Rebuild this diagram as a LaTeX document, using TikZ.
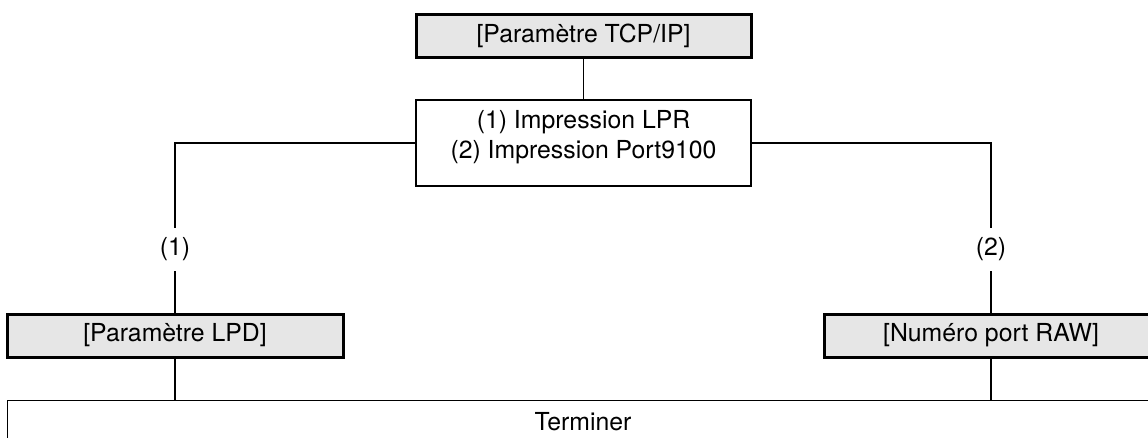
\documentclass[tikz,border=0pt]{standalone}
\usepackage{fontspec}
\setmainfont{TeX Gyre Heros}
\definecolor{boxgray}{HTML}{E6E6E6}
\begin{document}
\begin{tikzpicture}[x=1pt,y=-1pt,
  every node/.style={font=\fontsize{24.8}{30}\selectfont, inner sep=0pt},
  graybox/.style={draw=black, line width=3pt, fill=boxgray, rectangle},
  plainbox/.style={draw=black, line width=1.3pt, fill=white, rectangle},
  conn/.style={draw=black, line width=1.3pt},
  lbl/.style={minimum height=43pt, inner sep=0pt}]
\useasboundingbox (0,0) rectangle (1148,437);
\clip (0,0) rectangle (1148,437);
% nodes
\node[graybox, minimum width=335pt, minimum height=43pt] (tcp) at (583.5,35.5) {[Paramètre TCP/IP]};
\node[plainbox, minimum width=335pt, minimum height=86pt] (mid) at (583.5,143) {};
\node[align=center] (midtext) at (583.5,137) {(1) Impression LPR\\(2) Impression Port9100};
\node[lbl] (l1) at (175,249.5) {(1)};
\node[lbl] (l2) at (991,249.5) {(2)};
\node[graybox, minimum width=336pt, minimum height=43pt] (lpd) at (175,335.5) {[Paramètre LPD]};
\node[graybox, minimum width=334pt, minimum height=43pt] (raw) at (991,335.5) {[Numéro port RAW]};
\node[plainbox, minimum width=1152pt, minimum height=44pt, anchor=north west] (fin) at (7,400) {};
\node (fintext) at (583,422) {Terminer};
% connectors
\draw[conn] (tcp.south) -- (mid.north);
\draw[conn] (mid.west) -| (l1.north);
\draw[conn] (l1.south) -- (lpd.north);
\draw[conn] (mid.east) -| (l2.north);
\draw[conn] (l2.south) -- (raw.north);
\draw[conn] (lpd.south) -- (lpd.south |- fin.north);
\draw[conn] (raw.south) -- (raw.south |- fin.north);
\end{tikzpicture}
\end{document}
